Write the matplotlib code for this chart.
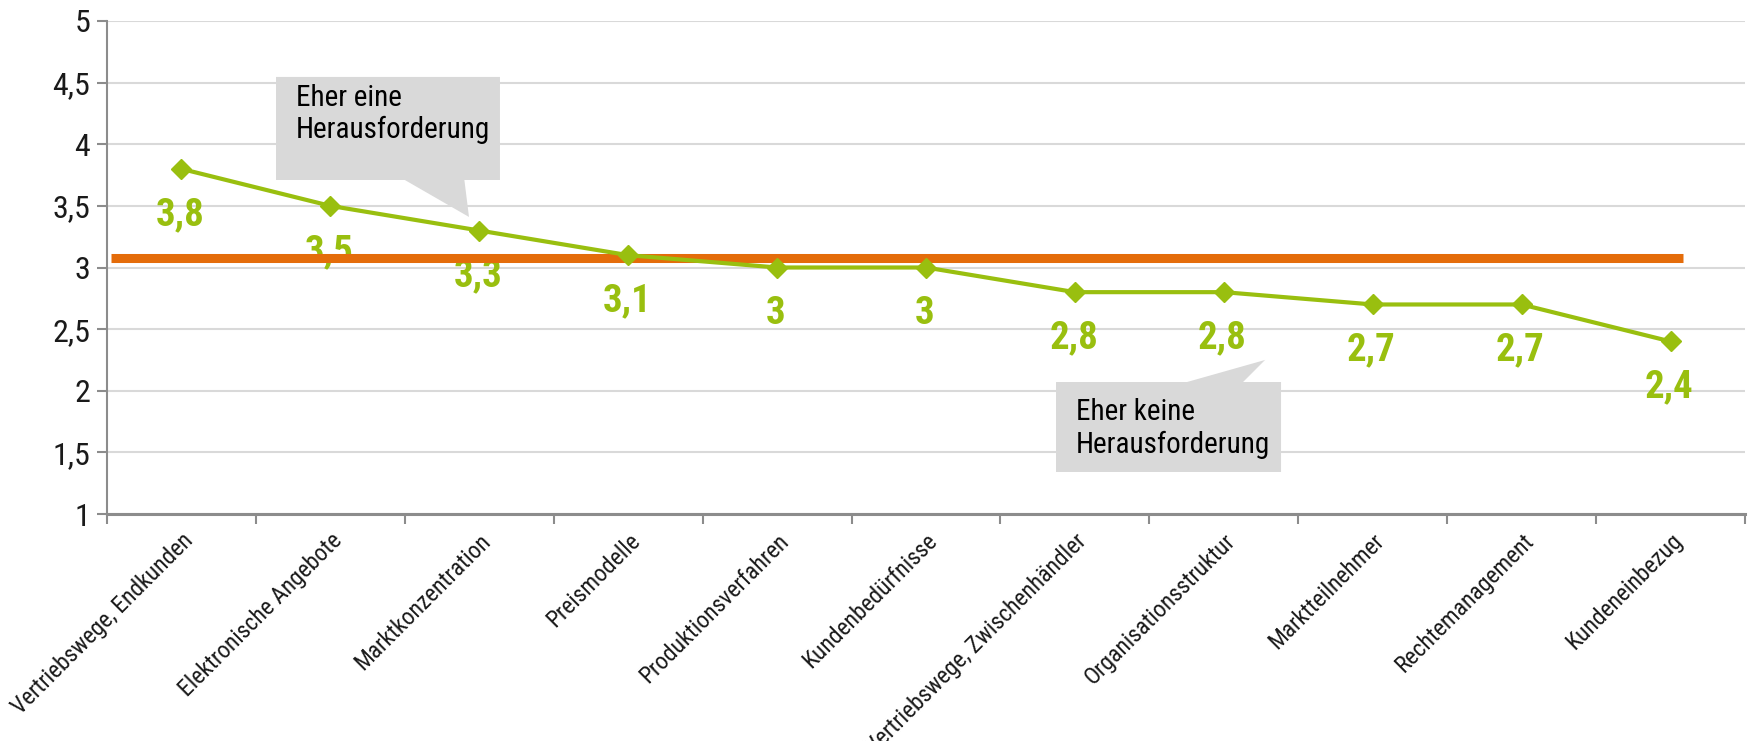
import matplotlib
matplotlib.use("Agg")
import matplotlib.pyplot as plt
from matplotlib import font_manager
from matplotlib.patches import Polygon

categories = ["Vertriebswege, Endkunden", "Elektronische Angebote", "Marktkonzentration",
              "Preismodelle", "Produktionsverfahren", "Kundenbedürfnisse",
              "Vertriebswege, Zwischenhändler", "Organisationsstruktur", "Marktteilnehmer",
              "Rechtemanagement", "Kundeneinbezug"]
values = [3.8, 3.5, 3.3, 3.1, 3.0, 3.0, 2.8, 2.8, 2.7, 2.7, 2.4]
reference_value = 3.08
ytick_values = [1, 1.5, 2, 2.5, 3, 3.5, 4, 4.5, 5]
callout_top = "Eher eine\nHerausforderung"
callout_bottom = "Eher keine\nHerausforderung"

names = {f.name for f in font_manager.fontManager.ttflist}
candidates = ["Liberation Sans Narrow", "Arial Narrow", "Roboto Condensed", "Archivo Narrow",
              "PT Sans Narrow", "Fira Sans Condensed"]
main = next((c for c in candidates if c in names), None)
if main is None:
    fam = ["Liberation Sans", "DejaVu Sans"]
    k = 0.82
else:
    fam = [main, "Liberation Sans", "DejaVu Sans"]
    k = 1.0
plt.rcParams["font.family"] = fam

GREEN = "#99bf0f"
ORANGE = "#e46c0a"
GRID = "#d9d9d9"
AXIS = "#8c8c8c"
BOX = "#d9d9d9"

fig = plt.figure(figsize=(17.51, 7.41), dpi=100)
ax = fig.add_axes([0.0611, 0.3063, 0.9355, 0.6654])

n = len(categories)
xs = list(range(n))
ax.set_xlim(-0.5, n - 0.5)
ax.set_ylim(1, 5)

# grid
ax.set_yticks(ytick_values)
ax.set_yticklabels([f"{v:g}".replace(".", ",") for v in ytick_values], fontsize=23 * k,
                   color="#1a1a1a")
ax.yaxis.grid(True, color=GRID, lw=1.5, zorder=0)
ax.set_axisbelow(True)

# x ticks: major at boundaries (marks), minor at categories (labels)
ax.set_xticks([i - 0.5 for i in range(n + 1)])
ax.set_xticklabels([])
ax.set_xticks(xs, minor=True)
ax.set_xticklabels(categories, minor=True, rotation=45, ha="right", va="top",
                   rotation_mode="anchor", fontsize=17 * k, color="#1a1a1a")
ax.tick_params(axis="x", which="major", length=7, width=1.5, color=AXIS, direction="out")
ax.tick_params(axis="x", which="minor", length=0, pad=11)
ax.tick_params(axis="y", length=7, width=1.5, color=AXIS, direction="out", pad=5)

for s in ["top", "right"]:
    ax.spines[s].set_visible(False)
ax.spines["left"].set_color(AXIS)
ax.spines["left"].set_linewidth(1.5)
ax.spines["bottom"].set_color(AXIS)
ax.spines["bottom"].set_linewidth(2.2)

# data labels
for x, v in zip(xs, values):
    ax.annotate(f"{v:g}".replace(".", ","), (x, v), xytext=(-1, -40.5), textcoords="offset points",
                ha="center", va="baseline", fontsize=28 * k, fontweight="bold", color=GREEN, zorder=2)

# reference line
ax.plot([-0.47, 10.08], [reference_value, reference_value], color=ORANGE, lw=6.5,
        solid_capstyle="butt", zorder=3)

# series
ax.plot(xs, values, color=GREEN, lw=3, marker="D", ms=10, zorder=4)

# callouts (speech bubbles)
def bubble(x0, x1, y0, y1, tip, base, top_side):
    if top_side:
        pts = [(x0, y0), (x1, y0), (x1, y1), (base[1], y1), tip, (base[0], y1), (x0, y1)]
    else:
        pts = [(x0, y0), (base[0], y0), tip, (base[1], y0), (x1, y0), (x1, y1), (x0, y1)]
    ax.add_patch(Polygon(pts, closed=True, facecolor=BOX, edgecolor="none", zorder=5))

bubble(0.635, 2.139, 4.546, 3.71, (1.931, 3.41), (1.50, 1.90), True)
ax.text(0.769, 4.245, callout_top, ha="left", va="center", fontsize=21 * k, linespacing=1.2,
        color="black", zorder=6)
bubble(5.873, 7.384, 2.071, 1.341, (7.277, 2.25), (6.753, 7.129), False)
ax.text(6.008, 1.692, callout_bottom, ha="left", va="center", fontsize=21 * k, linespacing=1.2,
        color="black", zorder=6)

fig.savefig("out.png", dpi=100)
